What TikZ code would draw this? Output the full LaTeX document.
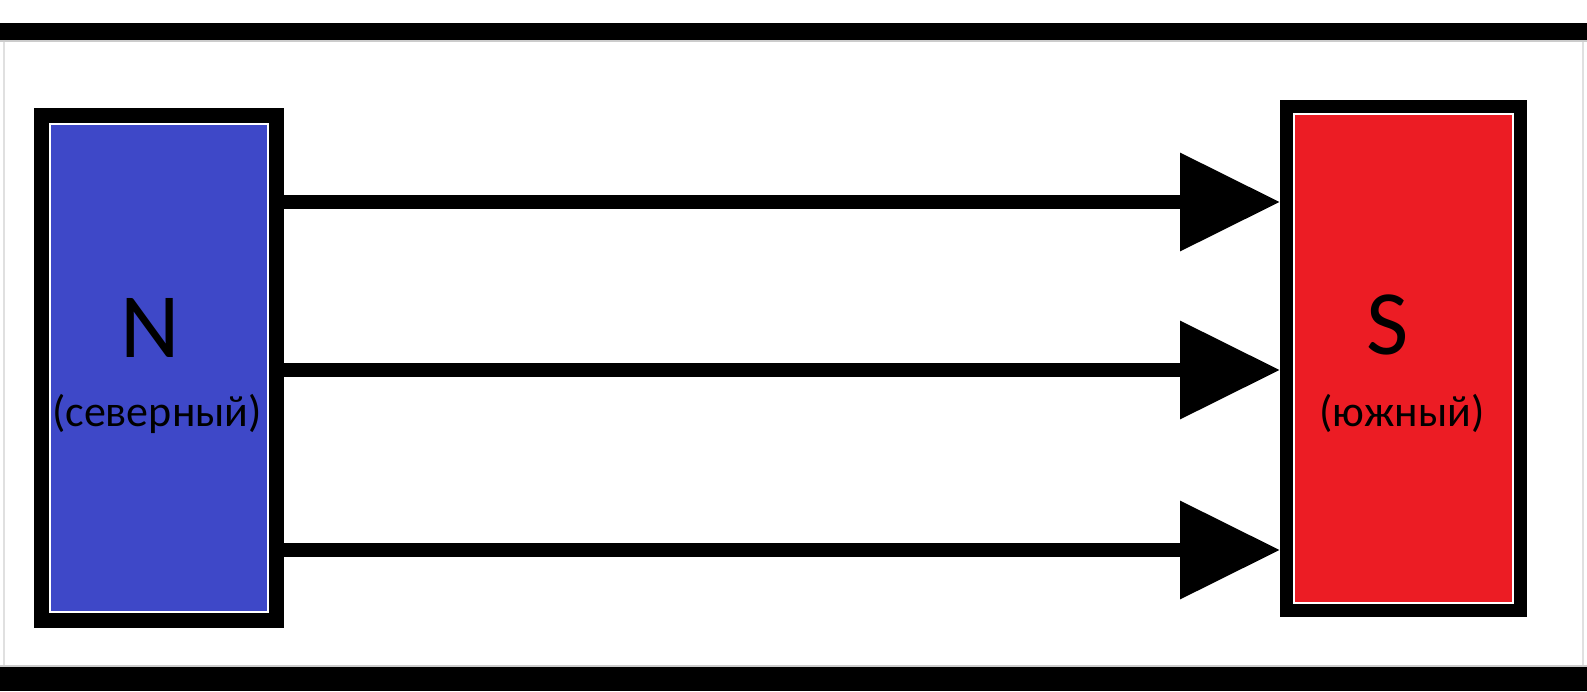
\documentclass[tikz,border=0pt]{standalone}
\usepackage{fontspec}
\setmainfont{Carlito}
\usetikzlibrary{arrows.meta}
\definecolor{nblue}{RGB}{62,72,200}
\definecolor{sred}{RGB}{236,28,36}
\tikzset{
  pole/.style={draw=black, rectangle, inner sep=0pt},
  fieldline/.style={line width=14pt, -{Triangle[length=100pt, width=95pt]}},
  bigletter/.style={font=\fontsize{92}{92}\selectfont, inner sep=0pt},
  subtitle/.style={font=\fontsize{44}{44}\selectfont, inner sep=0pt},
  bar/.style={fill=black},
  gap/.style={draw=white, line width=2pt}
}
\begin{document}
\begin{tikzpicture}[x=1pt,y=-1pt]
\useasboundingbox (0,0) rectangle (1587,691);
\fill[white] (0,0) rectangle (1587,691);
% faint frame
\draw[black!12, line width=1.5pt] (4,40) -- (4,667);
\draw[black!12, line width=1.5pt] (1583,40) -- (1583,667);
\draw[black!20, line width=2pt] (0,41) -- (1587,41);
\draw[black!20, line width=2pt] (0,666) -- (1587,666);
% black bars
\fill[bar] (0,23) rectangle (1587,40);
\fill[bar] (0,667) rectangle (1587,691);
% poles
\node[pole, fill=nblue, line width=15pt, minimum width=235pt, minimum height=505pt] (N) at (159,368) {};
\node[pole, fill=sred, line width=13pt, minimum width=234pt, minimum height=504pt] (S) at (1403.5,358.5) {};
\draw[gap] ([shift={(16pt,-16pt)}]N.north west) rectangle ([shift={(-16pt,16pt)}]N.south east);
\draw[gap] ([shift={(14pt,-14pt)}]S.north west) rectangle ([shift={(-14pt,14pt)}]S.south east);
% labels
\node[bigletter] (Nl) at (150,328) {N};
\node[subtitle] (Ns) at (157,414) {(северный)};
\node[bigletter] (Sl) at (1388,325) {S};
\node[subtitle] (Ss) at (1402,413) {(южный)};
% field lines
\coordinate (c1) at (0,202);
\coordinate (c2) at (0,370);
\coordinate (c3) at (0,550);
\draw[fieldline] (N.east |- c1) -- (S.west |- c1);
\draw[fieldline] (N.east |- c2) -- (S.west |- c2);
\draw[fieldline] (N.east |- c3) -- (S.west |- c3);
\end{tikzpicture}
\end{document}
